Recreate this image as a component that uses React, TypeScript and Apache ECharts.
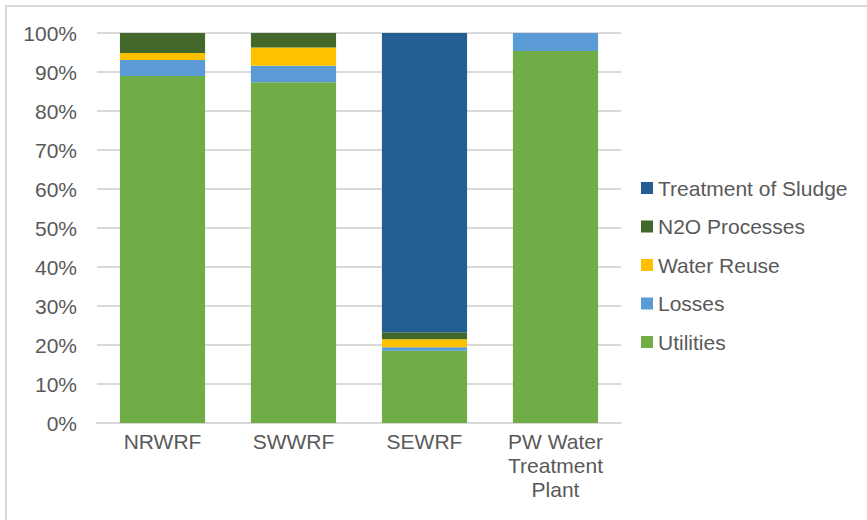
import React, { useEffect, useRef } from "react";
import * as echarts from "echarts";

const categories = ["NRWRF", "SWWRF", "SEWRF", "PW Water\nTreatment\nPlant"];
const utilities = [89.0, 87.4, 18.5, 95.4];
const losses = [4.1, 4.2, 0.9, 4.6];
const waterReuse = [1.8, 4.7, 2.1, 0];
const n2oProcesses = [5.1, 3.7, 1.8, 0];
const sludge = [0, 0, 76.7, 0];
const yTicks = [0, 10, 20, 30, 40, 50, 60, 70, 80, 90, 100];

const seriesDefs = [
  { name: "Utilities", data: utilities, color: "#70AD47" },
  { name: "Losses", data: losses, color: "#5B9BD5" },
  { name: "Water Reuse", data: waterReuse, color: "#FFC000" },
  { name: "N2O Processes", data: n2oProcesses, color: "#43682B" },
  { name: "Treatment of Sludge", data: sludge, color: "#255E91" },
];

export default function App() {
  const ref = useRef<HTMLDivElement>(null);
  useEffect(() => {
    if (!ref.current) return;
    const chart = echarts.init(ref.current, null, { renderer: "svg" });
    const font = "'Liberation Sans', Arial, sans-serif";
    chart.setOption({
      animation: false,
      backgroundColor: "#ffffff",
      textStyle: { fontFamily: font },
      graphic: [
        {
          type: "rect",
          shape: { x: 6, y: 6, width: 900, height: 600 },
          style: { fill: "none", stroke: "#D9D9D9", lineWidth: 2 },
          silent: true,
        },
      ],
      grid: { left: 97, right: 246, top: 33, bottom: 97, containLabel: false },
      legend: {
        orient: "vertical",
        left: 636,
        top: 172.5,
        itemWidth: 12,
        itemHeight: 12,
        itemGap: 17.5,
        icon: "rect",
        data: [...seriesDefs].reverse().map((s) => s.name),
        textStyle: { fontSize: 21, color: "#595959", fontFamily: font, lineHeight: 21 },
      },
      xAxis: {
        type: "category",
        data: categories,
        axisLine: { lineStyle: { color: "#D9D9D9", width: 2 } },
        axisTick: { show: false },
        axisLabel: { fontSize: 21, color: "#595959", margin: 6, lineHeight: 24, fontFamily: font },
      },
      yAxis: {
        type: "value",
        min: 0,
        max: 100,
        interval: 10,
        axisLine: { show: false },
        axisTick: { show: false },
        splitLine: { lineStyle: { color: "#D9D9D9", width: 2 } },
        axisLabel: {
          fontSize: 21,
          color: "#595959",
          margin: 20,
          fontFamily: font,
          formatter: (v: number) => (yTicks.includes(v) ? v + "%" : ""),
        },
      },
      series: seriesDefs.map((s) => ({
        name: s.name,
        type: "bar",
        stack: "total",
        barWidth: "65%",
        data: s.data,
        itemStyle: { color: s.color },
      })),
    });
    return () => chart.dispose();
  }, []);
  return (
    <div
      ref={ref}
      style={{ position: "absolute", left: 0, top: 0, width: 867, height: 520 }}
    />
  );
}
